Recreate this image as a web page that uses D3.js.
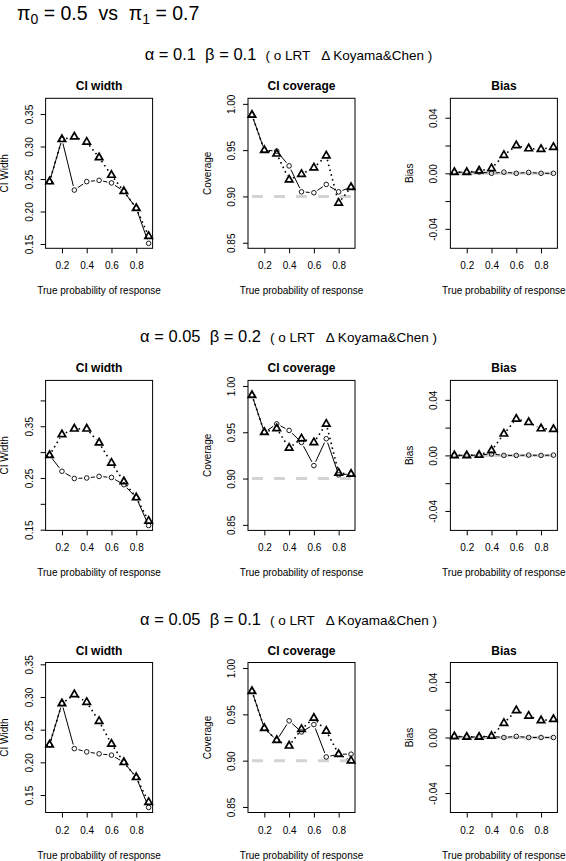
<!DOCTYPE html>
<html><head><meta charset="utf-8">
<script src="https://cdn.jsdelivr.net/npm/d3@7"></script>
<style>
body{margin:0;background:#fff}
svg{display:block}
text{font-family:"Liberation Sans",Arial,Helvetica,sans-serif;fill:#000}
</style>
</head><body>
<svg id="chart" width="566" height="861"></svg>
<script>
// ---------- data ----------
const xProb = [0.1,0.2,0.3,0.4,0.5,0.6,0.7,0.8,0.9];
const xTicks = [0.2,0.4,0.6,0.8];
const alphas = ["0.1","0.05","0.05"];
const betas  = ["0.1","0.2","0.1"];
const pi0 = "0.5", pi1 = "0.7";
const nominalCoverage = [0.9,0.9,0.9];
const panelTitles = ["CI width","CI coverage","Bias"];
const yTitles = ["CI Width","Coverage","Bias"];
const xTitle = "True probability of response";
const legendText = "( o LRT   \u0394 Koyama&Chen )";

// row 1 (alpha 0.1, beta 0.1)
const widthLRT1 = [0.246,0.311,0.233,0.246,0.248,0.244,0.231,0.205,0.151];
const widthKC1  = [0.246,0.311,0.315,0.307,0.283,0.256,0.231,0.205,0.162];
const covLRT1   = [0.988,0.950,0.949,0.933,0.905,0.904,0.913,0.905,0.910];
const covKC1    = [0.988,0.950,0.946,0.918,0.924,0.931,0.944,0.893,0.910];
const biasLRT1  = [0.0008,0.0008,0.0010,0.0000,0.0008,0.0000,0.0006,0.0000,0.0000];
const biasKC1   = [0.0008,0.0008,0.0018,0.0035,0.0130,0.0200,0.0178,0.0173,0.0188];
// row 2 (alpha 0.05, beta 0.2)
const widthLRT2 = [0.294,0.263,0.249,0.250,0.253,0.251,0.237,0.212,0.158];
const widthKC2  = [0.294,0.334,0.345,0.345,0.318,0.279,0.243,0.212,0.167];
const covLRT2   = [0.990,0.950,0.959,0.952,0.939,0.914,0.943,0.904,0.905];
const covKC2    = [0.990,0.950,0.954,0.933,0.943,0.939,0.959,0.906,0.905];
const biasLRT2  = [0.0000,0.0000,0.0002,0.0010,0.0000,0.0000,0.0002,0.0000,0.0002];
const biasKC2   = [0.0000,0.0000,0.0002,0.0035,0.0155,0.0262,0.0238,0.0193,0.0188];
// row 3 (alpha 0.05, beta 0.1)
const widthLRT3 = [0.227,0.290,0.221,0.216,0.213,0.211,0.200,0.177,0.131];
const widthKC3  = [0.227,0.290,0.304,0.292,0.263,0.228,0.200,0.177,0.139];
const covLRT3   = [0.975,0.935,0.922,0.943,0.931,0.939,0.904,0.907,0.907];
const covKC3    = [0.975,0.935,0.922,0.916,0.934,0.946,0.932,0.907,0.900];
const biasLRT3  = [0.0008,0.0004,0.0004,0.0008,0.0000,0.0008,0.0000,0.0000,0.0000];
const biasKC3   = [0.0008,0.0004,0.0004,0.0010,0.0103,0.0195,0.0155,0.0122,0.0131];

const widthTicks = [[0.15,0.20,0.25,0.30,0.35],[0.15,0.20,0.25,0.30,0.35,0.40],[0.15,0.20,0.25,0.30,0.35]];
const widthTickLabels = [[0.15,0.20,0.25,0.30,0.35],[0.15,0.25,0.35],[0.15,0.20,0.25,0.30,0.35]];
const covTicks = [0.85,0.90,0.95,1.00];
const biasTicks = [-0.04,-0.02,0,0.02,0.04];
const biasTickLabels = [-0.04,0,0.04];

// ---------- layout ----------
const svg = d3.select("#chart");
const rowTop0 = 98.3, rowPitch = 282.1, boxH = 150, boxW = 107;
const panelLeft = [45.6, 248, 450.4];
const widthDomains = [[0.1434,0.3742],[0.1486,0.4387],[0.1232,0.3528]];
const covDomain = [0.844,1.006];
const biasDomain = [-0.054,0.054];

const rows = [
  {w:[widthLRT1,widthKC1], c:[covLRT1,covKC1], b:[biasLRT1,biasKC1]},
  {w:[widthLRT2,widthKC2], c:[covLRT2,covKC2], b:[biasLRT2,biasKC2]},
  {w:[widthLRT3,widthKC3], c:[covLRT3,covKC3], b:[biasLRT3,biasKC3]}
];

// main title
const mt = svg.append("text").attr("x",17).attr("y",20).style("font-size","19.5px").attr("xml:space","preserve").style("white-space","pre");
mt.append("tspan").text("\u03c0");
mt.append("tspan").attr("dy",4).style("font-size","14px").text("0");
mt.append("tspan").attr("dy",-4).text(" = " + pi0 + "  vs  \u03c0");
mt.append("tspan").attr("dy",4).style("font-size","14px").text("1");
mt.append("tspan").attr("dy",-4).text(" = " + pi1);

function gappedSegments(pts, gap) {
  const segs = [];
  for (let i = 0; i < pts.length - 1; i++) {
    const [x0,y0] = pts[i], [x1,y1] = pts[i+1];
    const dx = x1-x0, dy = y1-y0, d = Math.hypot(dx,dy);
    if (d <= 2*gap) continue;
    const ux = dx/d, uy = dy/d;
    segs.push([[x0+ux*gap, y0+uy*gap],[x1-ux*gap, y1-uy*gap]]);
  }
  return segs;
}

const triR = 4.3;
const triPath = `M0,${-triR}L${triR*Math.sqrt(3)/2},${triR/2}L${-triR*Math.sqrt(3)/2},${triR/2}Z`;

function drawPanel(r, p, top, series, domain, ticks, tickLabels, fmt, refLine) {
  const left = panelLeft[p];
  const g = svg.append("g");
  const x = d3.scaleLinear().domain([0.068,0.932]).range([left,left+boxW]);
  const y = d3.scaleLinear().domain(domain).range([top+boxH, top]);

  // reference line
  if (refLine) {
    g.append("line")
      .attr("x1", x(xProb[0])).attr("x2", x(xProb[xProb.length-1]))
      .attr("y1", y(refLine.v)).attr("y2", y(refLine.v))
      .attr("stroke","#d3d3d3").attr("stroke-width",3)
      .attr("stroke-dasharray", refLine.dash ? "11,11" : null);
  }

  // x axis
  const xa = g.append("g").attr("transform",`translate(0,${top+boxH})`)
    .call(d3.axisBottom(x).tickValues(xTicks).tickSize(5).tickPadding(9).tickFormat(d3.format(".1f")));
  xa.select(".domain").remove();
  xa.selectAll("text").style("font-size","10px").style("font-family",null);
  xa.selectAll("line").attr("stroke","#000");

  // y axis
  const ya = g.append("g").attr("transform",`translate(${left},0)`)
    .call(d3.axisLeft(y).tickValues(ticks).tickSize(5).tickFormat(d => tickLabels.some(t => Math.abs(t-d) < 1e-9) ? fmt(d) : ""));
  ya.select(".domain").remove();
  ya.selectAll("line").attr("stroke","#000");
  ya.selectAll("text").style("font-size","10px").style("font-family",null)
    .attr("x",0).attr("y",-13).attr("dy",null)
    .attr("text-anchor","middle").attr("transform","rotate(-90)");

  // box
  g.append("rect").attr("x",left).attr("y",top).attr("width",boxW).attr("height",boxH)
    .attr("fill","none").attr("stroke","#000").attr("stroke-width",1);

  // titles
  g.append("text").attr("x",left+boxW/2).attr("y",top-8).attr("text-anchor","middle")
    .style("font-size","12px").style("font-weight","bold").text(panelTitles[p]);
  g.append("text").attr("x",left+boxW/2).attr("y",top+boxH+46).attr("text-anchor","middle")
    .style("font-size","10px").text(xTitle);
  g.append("text").attr("transform",`translate(${left-37.2},${top+boxH/2}) rotate(-90)`)
    .attr("text-anchor","middle").style("font-size","10px").text(yTitles[p]);

  const [lrt, kc] = series;
  const kcPts = xProb.map((v,i) => [x(v), y(kc[i])]);
  const lrtPts = xProb.map((v,i) => [x(v), y(lrt[i])]);

  // Koyama & Chen: dotted line + triangles
  g.append("g").selectAll("line").data(gappedSegments(kcPts, 4.2)).join("line")
    .attr("x1",d=>d[0][0]).attr("y1",d=>d[0][1]).attr("x2",d=>d[1][0]).attr("y2",d=>d[1][1])
    .attr("stroke","#000").attr("stroke-width",1.6).attr("stroke-dasharray","1.6,3.4");
  g.append("g").selectAll("path").data(kcPts).join("path")
    .attr("d",triPath).attr("transform",d=>`translate(${d[0]},${d[1]})`)
    .attr("fill","none").attr("stroke","#000").attr("stroke-width",1.7).attr("stroke-linejoin","miter");

  // LRT: solid line + circles
  g.append("g").selectAll("line").data(gappedSegments(lrtPts, 4.2)).join("line")
    .attr("x1",d=>d[0][0]).attr("y1",d=>d[0][1]).attr("x2",d=>d[1][0]).attr("y2",d=>d[1][1])
    .attr("stroke","#000").attr("stroke-width",1);
  g.append("g").selectAll("circle").data(lrtPts).join("circle")
    .attr("cx",d=>d[0]).attr("cy",d=>d[1]).attr("r",2.3)
    .attr("fill","none").attr("stroke","#000").attr("stroke-width",0.9);
}

rows.forEach((row, r) => {
  const top = rowTop0 + r*rowPitch;
  // row header
  const h = svg.append("text").attr("x",288.5).attr("y",top-38).attr("text-anchor","middle")
    .attr("xml:space","preserve").style("white-space","pre");
  h.append("tspan").style("font-size","16.5px").text(`\u03b1 = ${alphas[r]}  \u03b2 = ${betas[r]}  `);
  h.append("tspan").style("font-size","13.5px").text(legendText);

  drawPanel(r, 0, top, row.w, widthDomains[r], widthTicks[r], widthTickLabels[r], d3.format(".2f"), null);
  drawPanel(r, 1, top, row.c, covDomain, covTicks, covTicks, d3.format(".2f"), {v:nominalCoverage[r], dash:true});
  drawPanel(r, 2, top, row.b, biasDomain, biasTicks, biasTickLabels, d => d3.format(".2f")(d).replace("\u2212","-"), {v:0, dash:false});
});
</script>
</body></html>
